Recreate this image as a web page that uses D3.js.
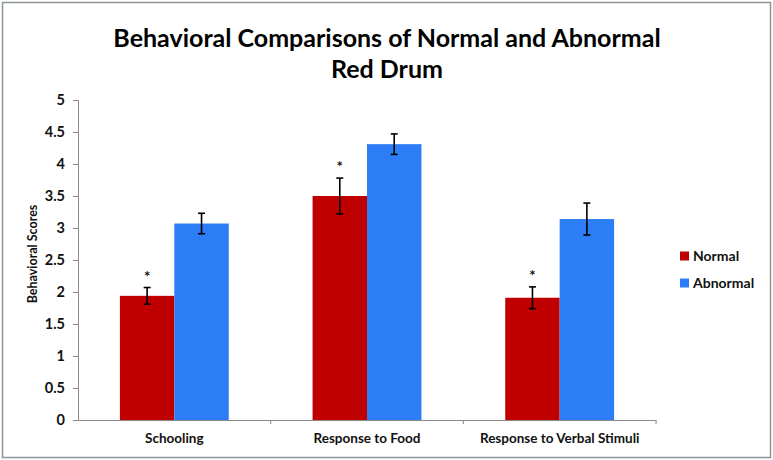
<!DOCTYPE html>
<html>
<head>
<meta charset="utf-8">
<script src="https://cdn.jsdelivr.net/npm/d3@7"></script>
<style>
  body { margin: 0; background: #fff; }
  svg { display: block; }
  text { font-family: Lato, "Open Sans", sans-serif; font-weight: 700; }
</style>
</head>
<body>
<svg id="chart" width="773" height="460"></svg>
<script>
const categories = ["Schooling", "Response to Food", "Response to Verbal Stimuli"];
const seriesNames = ["Normal", "Abnormal"];
const normalValues = [1.94, 3.50, 1.91];
const normalErrors = [0.13, 0.28, 0.17];
const abnormalValues = [3.07, 4.31, 3.14];
const abnormalErrors = [0.16, 0.16, 0.25];
const significant = [true, true, true];
const yTicks = [0, 0.5, 1, 1.5, 2, 2.5, 3, 3.5, 4, 4.5, 5];
const colors = ["#C00000", "#2D7DF6"];

const svg = d3.select("#chart");
const W = 773, H = 460;

// outer border
svg.append("rect").attr("x", 2.5).attr("y", 2.5).attr("width", W - 5).attr("height", H - 5)
  .attr("fill", "#fff").attr("stroke", "#8c9599").attr("stroke-width", 1.5);

// title
const title = svg.append("text").attr("text-anchor", "middle").attr("font-size", 25).attr("fill", "#000");
title.append("tspan").attr("x", 387).attr("y", 47).text("Behavioral Comparisons of Normal and Abnormal");
title.append("tspan").attr("x", 387).attr("y", 78).text("Red Drum");

const plot = { left: 78, right: 656, top: 100, bottom: 420 };

const x = d3.scaleBand().domain(categories).range([plot.left, plot.right])
  .paddingInner(0.435).paddingOuter(0.2175);
const xs = d3.scaleBand().domain(seriesNames).range([0, x.bandwidth()]);
const y = d3.scaleLinear().domain([0, 5]).range([plot.bottom, plot.top]);

// y axis
const yAxis = svg.append("g").attr("transform", `translate(${plot.left},0)`)
  .call(d3.axisLeft(y).tickValues(yTicks).tickSize(5).tickPadding(8).tickFormat(d => String(d)));
yAxis.select(".domain").attr("stroke", "#888");
yAxis.selectAll(".tick line").attr("stroke", "#888");
yAxis.selectAll(".tick text").attr("font-size", 14.5).attr("fill", "#111")
  .style("font-family", "Lato, sans-serif").style("font-weight", 700);

// x axis
const xAxis = svg.append("g").attr("transform", `translate(0,${plot.bottom})`)
  .call(d3.axisBottom(x).tickSize(0).tickPadding(13));
xAxis.select(".domain").attr("stroke", "#888");
xAxis.selectAll(".tick text").attr("font-size", 13.5).attr("fill", "#111")
  .style("font-family", "Lato, sans-serif").style("font-weight", 700);
// boundary tick marks
const boundaries = categories.map(c => x(c) - x.step() * x.paddingInner() / 2).slice(1)
  .concat([plot.right]);
svg.append("g").selectAll("line").data(boundaries).join("line")
  .attr("x1", d => d).attr("x2", d => d).attr("y1", plot.bottom).attr("y2", plot.bottom + 4)
  .attr("stroke", "#888");

// y axis title
svg.append("text").attr("transform", `translate(37,254) rotate(-90)`)
  .attr("text-anchor", "middle").attr("font-size", 12.5).attr("fill", "#111")
  .text("Behavioral Scores");

// data rows
const rows = [];
categories.forEach((c, i) => {
  rows.push({ cat: c, series: "Normal", v: normalValues[i], e: normalErrors[i], sig: significant[i], color: colors[0] });
  rows.push({ cat: c, series: "Abnormal", v: abnormalValues[i], e: abnormalErrors[i], sig: false, color: colors[1] });
});

const g = svg.append("g");
g.selectAll("rect.bar").data(rows).join("rect").attr("class", "bar")
  .attr("x", d => x(d.cat) + xs(d.series))
  .attr("width", xs.bandwidth())
  .attr("y", d => y(d.v))
  .attr("height", d => y(0) - y(d.v))
  .attr("fill", d => d.color);

// error bars
const eb = g.selectAll("g.err").data(rows).join("g").attr("class", "err")
  .attr("transform", d => `translate(${x(d.cat) + xs(d.series) + xs.bandwidth() / 2},0)`);
eb.append("line").attr("y1", d => y(d.v + d.e)).attr("y2", d => y(d.v - d.e))
  .attr("stroke", "#000").attr("stroke-width", 1.6);
eb.append("line").attr("x1", -3.5).attr("x2", 3.5).attr("y1", d => y(d.v + d.e)).attr("y2", d => y(d.v + d.e))
  .attr("stroke", "#000").attr("stroke-width", 1.6);
eb.append("line").attr("x1", -3.5).attr("x2", 3.5).attr("y1", d => y(d.v - d.e)).attr("y2", d => y(d.v - d.e))
  .attr("stroke", "#000").attr("stroke-width", 1.6);
eb.filter(d => d.sig).append("text").attr("text-anchor", "middle")
  .attr("y", d => y(d.v + d.e) - 6).attr("font-size", 15).attr("fill", "#111").text("*");

// legend
const legend = svg.append("g").attr("transform", "translate(680,0)");
const ly = [256, 283];
seriesNames.forEach((s, i) => {
  legend.append("rect").attr("x", 0).attr("y", ly[i] - 4.5).attr("width", 9).attr("height", 9).attr("fill", colors[i]);
  legend.append("text").attr("x", 13).attr("y", ly[i] + 5).attr("font-size", 14).attr("fill", "#111").text(s);
});
</script>
</body>
</html>
